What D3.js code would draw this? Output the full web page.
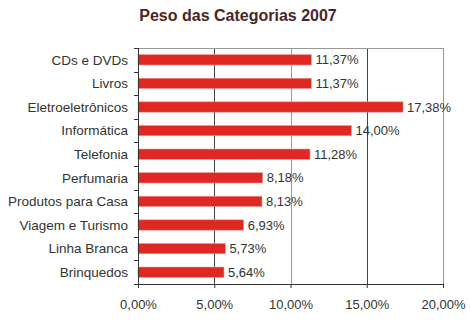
<!DOCTYPE html>
<html>
<head>
<meta charset="utf-8">
<script src="https://cdn.jsdelivr.net/npm/d3@7"></script>
<style>
  html, body { margin: 0; padding: 0; background: #fff; }
  svg { display: block; font-family: "Liberation Sans", Arial, sans-serif; }
</style>
</head>
<body>
<svg id="chart" width="470" height="325"></svg>
<script>
const categories = ["CDs e DVDs", "Livros", "Eletroeletrônicos", "Informática", "Telefonia",
  "Perfumaria", "Produtos para Casa", "Viagem e Turismo", "Linha Branca", "Brinquedos"];
const values = [11.37, 11.37, 17.38, 14.00, 11.28, 8.18, 8.13, 6.93, 5.73, 5.64];
const tickValues = [0, 5, 10, 15, 20];

const fmt = v => v.toFixed(2).replace(".", ",") + "%";

const svg = d3.select("#chart");
const margin = { top: 48, right: 27, bottom: 41, left: 138 };
const W = 470, H = 325;
const iw = W - margin.left - margin.right;
const ih = H - margin.top - margin.bottom;

svg.append("text")
  .attr("x", 238).attr("y", 21)
  .attr("text-anchor", "middle")
  .attr("font-weight", "bold")
  .attr("font-size", 16)
  .attr("fill", "#4a2626")
  .text("Peso das Categorias 2007");

const g = svg.append("g").attr("transform", `translate(${margin.left},${margin.top})`);

const x = d3.scaleLinear().domain([0, 20]).range([0, iw]);
const y = d3.scaleBand().domain(categories).range([0, ih]).paddingInner(0.56).paddingOuter(0.28);

// gridlines
g.selectAll("line.grid").data(tickValues.slice(1)).join("line")
  .attr("class", "grid")
  .attr("x1", d => Math.round(x(d)) + 0.5).attr("x2", d => Math.round(x(d)) + 0.5)
  .attr("y1", 0).attr("y2", ih)
  .attr("stroke", (d, i) => i % 2 === 0 ? "#444" : "#999")
  .attr("stroke-width", 1);

// top border
g.append("line")
  .attr("x1", 0).attr("x2", iw).attr("y1", 0.5).attr("y2", 0.5)
  .attr("stroke", "#999");

// bars
g.selectAll("rect.bar").data(categories).join("rect")
  .attr("class", "bar")
  .attr("x", 0)
  .attr("y", d => y(d))
  .attr("width", (d, i) => x(values[i]))
  .attr("height", y.bandwidth())
  .attr("fill", "#e02823")
  .attr("stroke", "#f0a0a0")
  .attr("stroke-width", 0.6);

// value labels
g.selectAll("text.val").data(categories).join("text")
  .attr("class", "val")
  .attr("x", (d, i) => x(values[i]) + 4)
  .attr("y", d => y(d) + y.bandwidth() / 2)
  .attr("dy", "0.36em")
  .attr("font-size", 13)
  .attr("fill", "#333")
  .text((d, i) => fmt(values[i]));

// left axis with ticks on band boundaries
const yAxisG = g.append("g");
yAxisG.append("line")
  .attr("x1", 0.5).attr("x2", 0.5).attr("y1", 0).attr("y2", ih)
  .attr("stroke", "#333");
const bounds = d3.range(categories.length + 1).map(i => i * ih / categories.length);
yAxisG.selectAll("line.tk").data(bounds).join("line")
  .attr("class", "tk")
  .attr("x1", -4).attr("x2", 0.5)
  .attr("y1", d => Math.round(d) + 0.5).attr("y2", d => Math.round(d) + 0.5)
  .attr("stroke", "#333");
yAxisG.selectAll("text").data(categories).join("text")
  .attr("x", -10)
  .attr("y", d => y(d) + y.bandwidth() / 2)
  .attr("dy", "0.36em")
  .attr("text-anchor", "end")
  .attr("font-size", 13.5)
  .attr("fill", "#333")
  .text(d => d);

// bottom axis
const xAxis = d3.axisBottom(x).tickValues(tickValues).tickSize(4).tickPadding(12).tickFormat(fmt);
const xg = g.append("g").attr("transform", `translate(0,${ih})`).call(xAxis);
xg.select(".domain").attr("stroke", "#333");
xg.selectAll(".tick line").attr("stroke", "#333");
xg.selectAll(".tick text").attr("font-size", 13).attr("fill", "#333")
  .attr("font-family", "Liberation Sans, Arial, sans-serif");
</script>
</body>
</html>
